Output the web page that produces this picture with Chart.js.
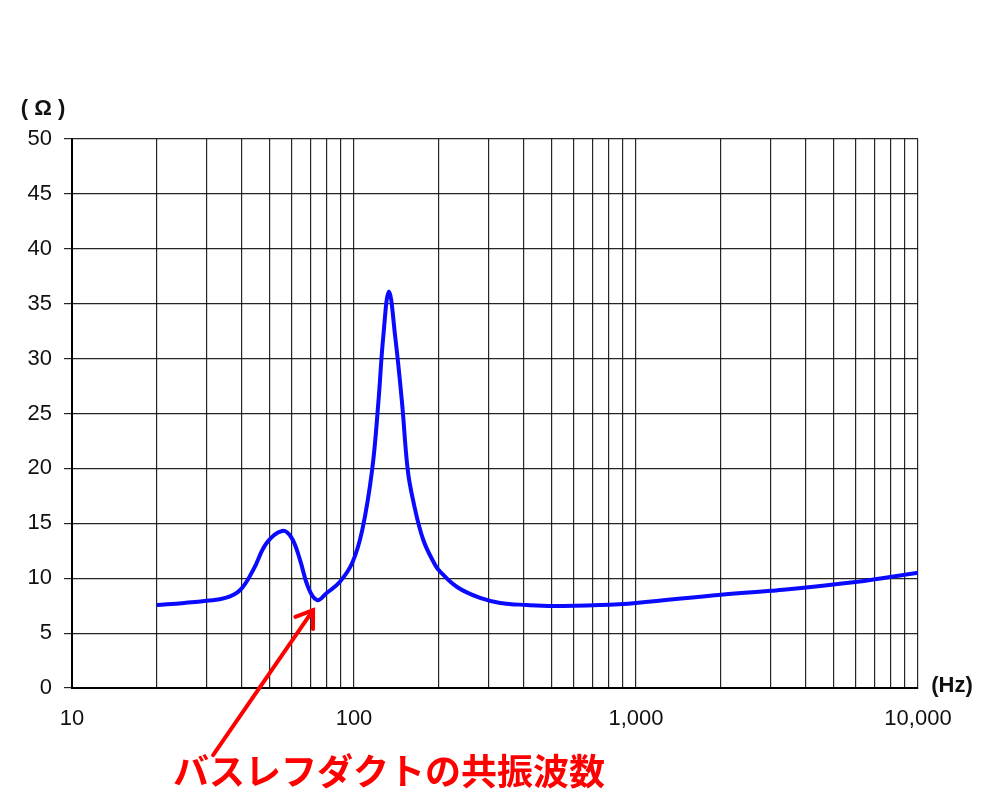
<!DOCTYPE html>
<html>
<head>
<meta charset="utf-8">
<script src="https://cdn.jsdelivr.net/npm/chart.js@4"></script>
<style>
  html, body { margin: 0; padding: 0; background: #fff; }
  #wrap { width: 1000px; height: 806px; position: relative; }
</style>
</head>
<body>
<div id="wrap"><canvas id="chart" width="1000" height="806"></canvas></div>
<script>
// Fréquences (Hz) et impédance (Ω)
const freqs = [20, 25, 30, 35, 39.4, 43.9, 49, 55.6, 60, 64.3, 68.7, 74, 80, 89, 98.6, 107, 116, 122, 127, 133, 140, 148, 155, 162, 176, 194, 202, 232, 280, 330, 410, 508, 745, 1000, 2000, 3000, 6000, 10000];
const impedance = [7.55, 7.75, 7.95, 8.2, 8.9, 10.75, 13.2, 14.3, 13.7, 11.7, 9.2, 8.0, 8.65, 9.65, 11.4, 14.4, 19.9, 26.0, 32.0, 36.1, 32.0, 26.0, 19.9, 17.1, 13.5, 11.2, 10.6, 9.2, 8.2, 7.75, 7.56, 7.47, 7.56, 7.75, 8.5, 8.85, 9.65, 10.5];

const xTicks = [10, 20, 30, 40, 50, 60, 70, 80, 90, 100, 200, 300, 400, 500, 600, 700, 800, 900, 1000, 2000, 3000, 4000, 5000, 6000, 7000, 8000, 9000, 10000];
const xLabelTicks = [10, 100, 1000, 10000];
const yTicks = [0, 5, 10, 15, 20, 25, 30, 35, 40, 45, 50];

const annotationText = 'バスレフダクトの共振波数';
const arrowTarget = { x: 71.6, y: 7.1 }; // pointe de la flèche (creux de la courbe)

const points = freqs.map((f, i) => ({ x: f, y: impedance[i] }));

// Textes d'unité + flèche rouge
const extras = {
    id: 'extras',
    afterDraw(chart) {
        const ctx = chart.ctx;
        const { x, y } = chart.scales;
        const area = chart.chartArea;
        ctx.save();
        ctx.fillStyle = '#111';
        ctx.font = 'bold 22px "Liberation Sans", Arial, sans-serif';
        ctx.textAlign = 'center';
        ctx.textBaseline = 'middle';
        ctx.fillText('( Ω )', area.left - 29, area.top - 30);
        ctx.fillText('(Hz)', area.right + 34, area.bottom - 2);

        // flèche
        const tx = x.getPixelForValue(arrowTarget.x);
        const ty = y.getPixelForValue(arrowTarget.y);
        const sx = tx - 100, sy = ty + 145;
        ctx.strokeStyle = '#ff0000';
        ctx.lineWidth = 4;
        ctx.lineCap = 'round';
        ctx.beginPath();
        ctx.moveTo(sx, sy);
        ctx.lineTo(tx, ty);
        ctx.stroke();
        const ang = Math.atan2(ty - sy, tx - sx);
        const len = 19;
        ctx.beginPath();
        ctx.moveTo(tx + len * Math.cos(ang + Math.PI - 0.6), ty + len * Math.sin(ang + Math.PI - 0.6));
        ctx.lineTo(tx, ty);
        ctx.lineTo(tx + len * Math.cos(ang + Math.PI + 0.6), ty + len * Math.sin(ang + Math.PI + 0.6));
        ctx.stroke();

        ctx.fillStyle = '#ff0000';
        ctx.font = 'bold 36px "Noto Sans CJK JP", sans-serif';
        ctx.textAlign = 'left';
        ctx.fillText(annotationText, 173, 771);
        ctx.restore();
    }
};

new Chart(document.getElementById('chart'), {
    type: 'scatter',
    data: {
        datasets: [{
            data: points,
            showLine: true,
            borderColor: '#0a0aff',
            borderWidth: 4,
            pointRadius: 0,
            tension: 0.4,
            fill: false
        }]
    },
    options: {
        responsive: false,
        animation: false,
        layout: { padding: { top: 139, right: 82, left: 0, bottom: 0 } },
        plugins: { legend: { display: false }, tooltip: { enabled: false } },
        scales: {
            x: {
                type: 'logarithmic',
                min: 10,
                max: 10000,
                afterBuildTicks: s => { s.ticks = xTicks.map(v => ({ value: v })); },
                afterFit: s => { s.height = 118; },
                grid: { color: 'rgba(0,0,0,0.85)', lineWidth: 1.2, drawTicks: false },
                border: { color: '#000', width: 2 },
                ticks: {
                    autoSkip: false,
                    maxRotation: 0,
                    padding: 18,
                    color: '#111',
                    font: { family: '"Liberation Sans", Arial, sans-serif', size: 22 },
                    callback: v => xLabelTicks.includes(v) ? v.toLocaleString('en-US') : ''
                }
            },
            y: {
                min: 0,
                max: 50,
                afterBuildTicks: s => { s.ticks = yTicks.map(v => ({ value: v })); },
                afterFit: s => { s.width = 72; },
                grid: { color: 'rgba(0,0,0,0.85)', lineWidth: 1.2, drawTicks: true, tickLength: 8 },
                border: { color: '#000', width: 2 },
                ticks: {
                    padding: 12,
                    color: '#111',
                    font: { family: '"Liberation Sans", Arial, sans-serif', size: 22 }
                }
            }
        }
    },
    plugins: [extras]
});
</script>
</body>
</html>
